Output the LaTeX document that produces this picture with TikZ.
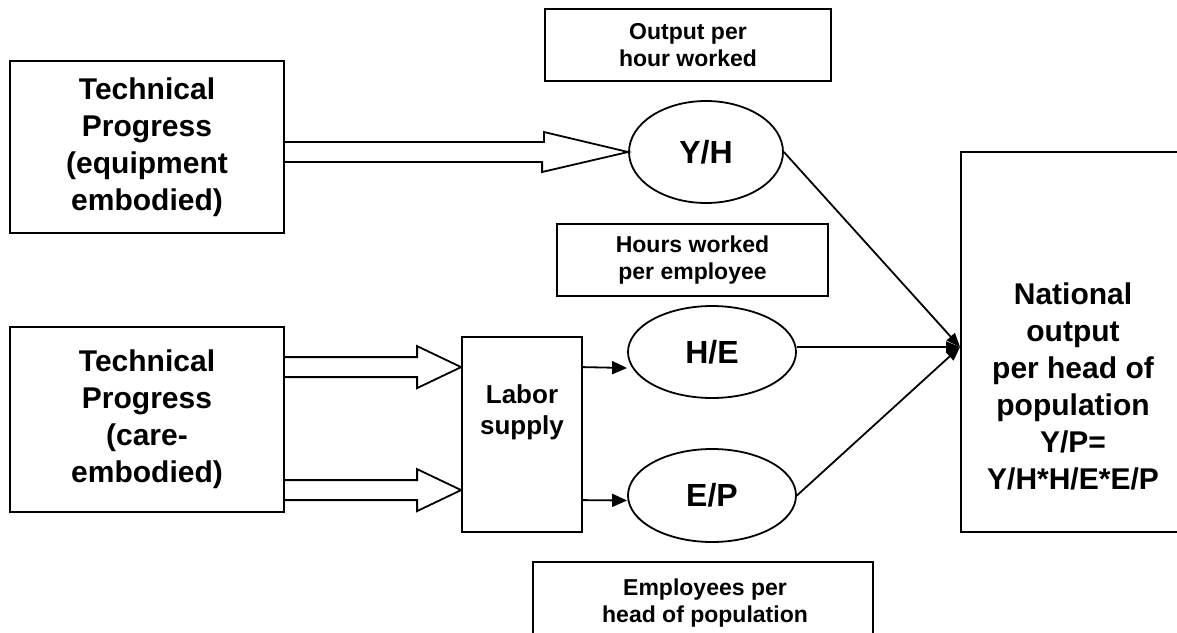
\documentclass[tikz,border=0pt]{standalone}
\usepackage{fontspec}
\setmainfont{Liberation Sans}
\usetikzlibrary{shapes.geometric,arrows.meta,calc}

\begin{document}
\begin{tikzpicture}[x=1pt,y=-1pt,
  box/.style={draw,line width=1.8pt,inner sep=0pt,align=center},
  oval/.style={draw,ellipse,line width=1.8pt,inner sep=0pt,font=\fontsize{32}{36}\selectfont\bfseries},
  big/.style={font=\fontsize{30}{37}\selectfont\bfseries,align=center},
  small/.style={font=\fontsize{23}{27}\selectfont\bfseries,align=center},
  feed/.style={line width=1.8pt,-{Triangle[length=15pt,width=13pt]}},
  merge/.style={line width=1.8pt,-{Triangle[length=14pt,width=11pt]}},
  hollow/.style={line width=1.8pt,line join=miter}]
\useasboundingbox (0,0) rectangle (1177,632);

% sources
\node[box,big,minimum width=274,minimum height=172] (tpe) at (147,147) {Technical\\Progress\\(equipment\\embodied)};
\node[box,big,minimum width=274,minimum height=185] (tpc) at (147,419.5) {Technical\\Progress\\(care-\\embodied)};

% captions
\node[box,small,minimum width=286,minimum height=72] (oph) at (688,45) {Output per\\hour worked};
\node[box,small,minimum width=271,minimum height=72] (hpe) at (692.5,260) {Hours worked\\per employee};
\node[box,minimum width=340,minimum height=100] (eph) at (703,612) {};
\node[small] (ephtxt) at (705,603) {Employees per\\head of population};

% ratios
\node[oval,minimum width=154,minimum height=102] (yh) at (706,152) {Y/H};
\node[oval,minimum width=168,minimum height=92] (he) at (712,352) {H/E};
\node[oval,minimum width=168,minimum height=93] (ep) at (712,495.5) {E/P};

\node[box,minimum width=120,minimum height=195] (lab) at (522,434.5) {};
\node[font=\fontsize{26}{31}\selectfont\bfseries,align=center] (labtxt) at (522,412) {Labor\\supply};

\node[box,minimum width=230,minimum height=380] (nat) at (1076,342) {};
\node[big] (nattxt) at (1073,386) {National\\output\\per head of\\population\\Y/P=\\Y/H*H/E*E/P};
\coordinate (meet) at (960,347);

% hollow arrows
\draw[hollow] ($(tpe.east)+(0,-5)$) -- ++(259,0) -- ++(0,-10) -- (yh.west)
  -- ++(-86,20) -- ++(0,-10) -- ++(-259,0);
\draw[hollow] ($(lab.north west)+(0,31)$) -- ++(-44,-21) -- ++(0,11) -- ++(-134,0);
\draw[hollow] ($(lab.north west)+(0,31)$) -- ++(-44,21) -- ++(0,-11) -- ++(-134,0);
\draw[hollow] ($(lab.north west)+(0,154)$) -- ++(-44,-21) -- ++(0,11) -- ++(-134,0);
\draw[hollow] ($(lab.north west)+(0,154)$) -- ++(-44,21) -- ++(0,-11) -- ++(-134,0);

% solid arrows
\draw[feed] ($(lab.north east)+(0,31)$) -- ($(he.west)+(0,16)$);
\draw[feed] ($(lab.north east)+(0,164)$) -- ($(ep.west)+(0,5)$);
\draw[merge] (yh.east) -- (meet);
\draw[merge] (he.east |- meet) -- (meet);
\draw[merge] (ep.east) -- (meet);
\end{tikzpicture}
\end{document}
